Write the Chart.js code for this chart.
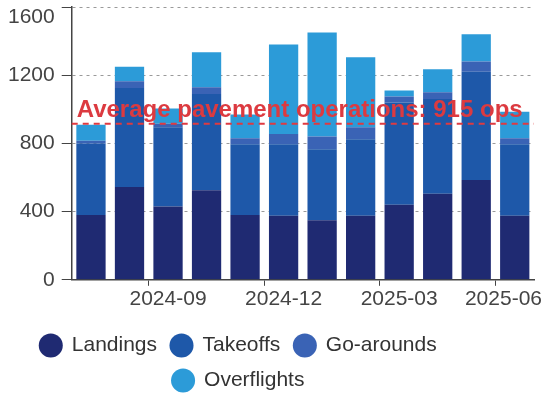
<!DOCTYPE html>
<html>
<head>
<meta charset="utf-8">
<script src="https://cdn.jsdelivr.net/npm/chart.js@4.4.1/dist/chart.umd.min.js"></script>
<style>
  html, body { margin: 0; padding: 0; background: #ffffff; }
  #wrap { width: 542px; height: 393px; }
</style>
</head>
<body>
<div id="wrap"><canvas id="ops-chart" width="542" height="393"></canvas></div>
<script>
// monthly airfield movements
var months = ['2024-07', '2024-08', '2024-09', '2024-10', '2024-11', '2024-12',
              '2025-01', '2025-02', '2025-03', '2025-04', '2025-05', '2025-06'];
var landings    = [380, 545, 430, 525, 380, 375, 350, 375, 440, 505, 585, 375];
var takeoffs    = [420, 580, 465, 565, 415, 420, 415, 450, 600, 555, 635, 420];
var goArounds   = [15, 40, 20, 40, 35, 60, 75, 70, 35, 40, 60, 35];
var overflights = [95, 85, 90, 205, 140, 525, 610, 410, 35, 135, 160, 155];
var yTicks = [0, 400, 800, 1200, 1600];
var avgOps = 915;

var FONT = "'Liberation Sans', Arial, sans-serif";

// dashed average line + label
var avgLinePlugin = {
    id: 'avgLine',
    afterDatasetsDraw: function(chart) {
        var ctx = chart.ctx;
        var area = chart.chartArea;
        var y = chart.scales.y.getPixelForValue(avgOps);
        ctx.save();
        ctx.strokeStyle = '#df3a40';
        ctx.lineWidth = 2;
        ctx.setLineDash([6, 5]);
        ctx.beginPath();
        ctx.moveTo(area.left, y);
        ctx.lineTo(area.right, y);
        ctx.stroke();
        ctx.setLineDash([]);
        ctx.fillStyle = '#dc3a40';
        ctx.font = 'bold 24px ' + FONT;
        ctx.textBaseline = 'alphabetic';
        ctx.fillText('Average pavement operations: ' + avgOps + ' ops', area.left + 5, y - 7);
        ctx.restore();
    }
};

// keep edge tick labels inside the canvas, nudge legend left/down
var fitPlugin = {
    id: 'fitEdges',
    afterLayout: function(chart) {
        var lg = chart.legend;
        if (lg) {
            lg.right -= 58;
            lg.top += 8;
            lg.bottom += 8;
        }
    },
    beforeDraw: function(chart) {
        var xItems = chart.scales.x.getLabelItems();
        var last = xItems[xItems.length - 1];
        if (last) {
            last.options.textAlign = 'right';
            last.options.translation[0] = chart.width;
        }
        var yItems = chart.scales.y.getLabelItems();
        yItems.forEach(function(it) {
            if (it.options.translation[1] < 17) it.options.translation[1] = 17;
        });
    }
};

var ctx = document.getElementById('ops-chart').getContext('2d');
new Chart(ctx, {
    type: 'bar',
    data: {
        labels: months,
        datasets: [
            { label: 'Landings', data: landings, backgroundColor: '#1f2a72' },
            { label: 'Takeoffs', data: takeoffs, backgroundColor: '#1e58a9' },
            { label: 'Go-arounds', data: goArounds, backgroundColor: '#3a63b5' },
            { label: 'Overflights', data: overflights, backgroundColor: '#2c9bd8' }
        ]
    },
    options: {
        responsive: false,
        animation: false,
        layout: { padding: { left: 1, right: 8, top: 7, bottom: 0 } },
        datasets: { bar: { categoryPercentage: 0.8, barPercentage: 0.95 } },
        scales: {
            x: {
                stacked: true,
                border: { color: '#444444', width: 1.5 },
                afterFit: function(scale) {
                    scale.paddingLeft = 0;
                    scale.paddingRight = 0;
                },
                grid: {
                    drawOnChartArea: false,
                    tickLength: 6,
                    tickColor: function(c) { return c.index % 3 === 2 ? '#444444' : 'rgba(0,0,0,0)'; }
                },
                ticks: {
                    autoSkip: false,
                    maxRotation: 0,
                    padding: 1,
                    color: '#444444',
                    font: { family: FONT, size: 21 },
                    callback: function(val, i) { return i % 3 === 2 ? months[i] : ''; }
                }
            },
            y: {
                stacked: true,
                min: yTicks[0],
                max: yTicks[yTicks.length - 1],
                border: { color: '#444444', width: 1.5, dash: [3, 4] },
                afterBuildTicks: function(scale) {
                    scale.ticks = yTicks.map(function(v) { return { value: v }; });
                },
                afterFit: function(scale) {
                    scale.paddingTop = 0;
                    scale.paddingBottom = 0;
                },
                grid: {
                    color: '#9a9a9a',
                    lineWidth: 1,
                    tickLength: 10,
                    tickColor: '#444444',
                    tickBorderDash: []
                },
                ticks: {
                    padding: 7,
                    color: '#444444',
                    font: { family: FONT, size: 21 },
                    callback: function(v) { return String(v); }
                }
            }
        },
        plugins: {
            legend: {
                position: 'bottom',
                labels: {
                    usePointStyle: true,
                    pointStyle: 'circle',
                    boxWidth: 21,
                    boxHeight: 17,
                    padding: 14,
                    color: '#333333',
                    font: { family: FONT, size: 21 }
                }
            },
            tooltip: { enabled: false }
        }
    },
    plugins: [avgLinePlugin, fitPlugin]
});
</script>
</body>
</html>
